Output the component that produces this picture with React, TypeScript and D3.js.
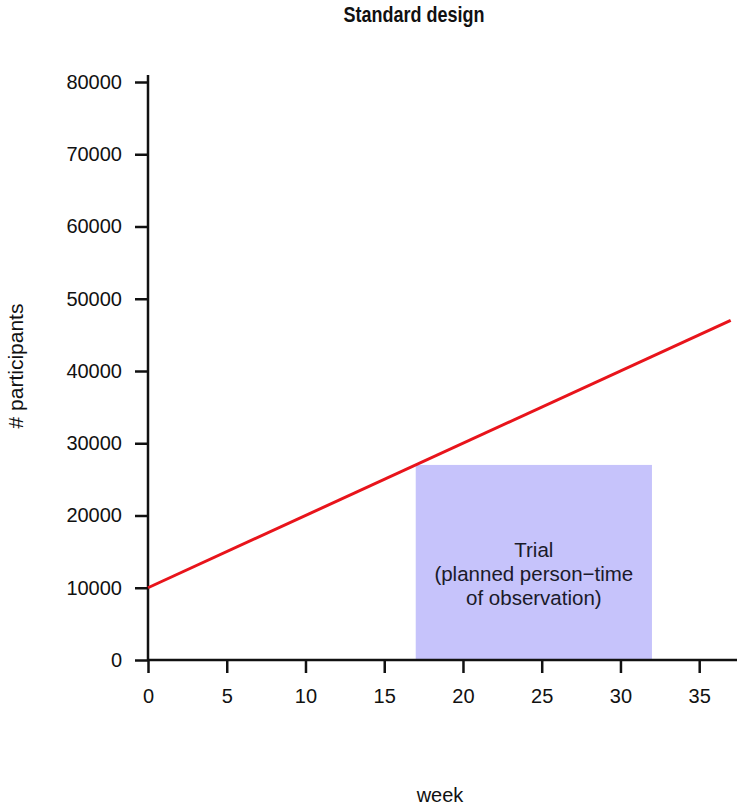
import React, { useEffect, useRef } from "react";
import * as d3 from "d3";

const weeks = [0, 37];
const participants = [10000, 47000];
const trialWeeks = [17, 32];
const trialHeight = 27000;
const xTicks = [0, 5, 10, 15, 20, 25, 30, 35];
const yTicks = [0, 10000, 20000, 30000, 40000, 50000, 60000, 70000, 80000];
const trialLabel = ["Trial", "(planned person\u2212time", "of observation)"];

const W = 737, H = 807;

const App = () => {
  const svgRef = useRef<SVGSVGElement>(null);

  useEffect(() => {
    const svg = d3.select(svgRef.current);
    svg.selectAll("*").remove();

    const font = "Liberation Sans, Arial, sans-serif";
    const x = d3.scaleLinear().domain([0, 37.4]).range([148, 737]);
    const y = d3.scaleLinear().domain([0, 80000]).range([660, 82]);

    // trial block
    svg.append("rect")
      .attr("x", x(trialWeeks[0]))
      .attr("y", y(trialHeight))
      .attr("width", x(trialWeeks[1]) - x(trialWeeks[0]))
      .attr("height", y(0) - y(trialHeight))
      .attr("fill", "#c6c3fb");

    const cx = (x(trialWeeks[0]) + x(trialWeeks[1])) / 2;
    svg.append("g")
      .selectAll("text")
      .data(trialLabel)
      .join("text")
      .attr("x", cx)
      .attr("y", (d, i) => 557 + i * 24)
      .attr("text-anchor", "middle")
      .style("font-family", font)
      .style("font-size", "20.5px")
      .attr("fill", "#1a1a2a")
      .text(d => d);

    // axes
    const xAxis = svg.append("g")
      .attr("transform", `translate(0,${y(0)})`)
      .call(d3.axisBottom(x).tickValues(xTicks).tickSize(13).tickPadding(16).tickSizeOuter(0));
    const yAxis = svg.append("g")
      .attr("transform", `translate(${x(0)},0)`)
      .call(d3.axisLeft(y).tickValues(yTicks).tickSize(13).tickPadding(13).tickFormat(d3.format("d")).tickSizeOuter(0));

    [xAxis, yAxis].forEach(a => {
      a.select(".domain").attr("stroke", "#111").attr("stroke-width", 2.5);
      a.selectAll(".tick line").attr("stroke", "#111").attr("stroke-width", 2.5);
      a.selectAll(".tick text")
        .style("font-family", font)
        .style("font-size", "20px")
        .attr("fill", "#111");
    });
    xAxis.select(".domain").attr("d", `M${x(0)},0H${W}`);
    yAxis.select(".domain").attr("d", `M0,${y(0)}V75`);

    // line
    const line = d3.line<number>()
      .x((d, i) => x(weeks[i]))
      .y(d => y(d));
    svg.append("path")
      .datum(participants)
      .attr("d", line)
      .attr("fill", "none")
      .attr("stroke", "#e8141b")
      .attr("stroke-width", 3);

    // titles
    svg.append("text")
      .attr("transform", "translate(414,22) scale(1,1.2)")
      .attr("text-anchor", "middle")
      .style("font-family", font)
      .style("font-size", "18px")
      .style("font-weight", "bold")
      .attr("fill", "#111")
      .text("Standard design");

    svg.append("text")
      .attr("x", 440).attr("y", 802)
      .attr("text-anchor", "middle")
      .style("font-family", font)
      .style("font-size", "20px")
      .attr("fill", "#111")
      .text("week");

    svg.append("text")
      .attr("transform", `translate(23,366) rotate(-90)`)
      .attr("text-anchor", "middle")
      .style("font-family", font)
      .style("font-size", "21px")
      .attr("fill", "#111")
      .text("# participants");
  }, []);

  return (
    <svg ref={svgRef} width={W} height={H} style={{ position: "absolute", left: 0, top: 0, background: "#fff" }}></svg>
  );
};

export default App;
